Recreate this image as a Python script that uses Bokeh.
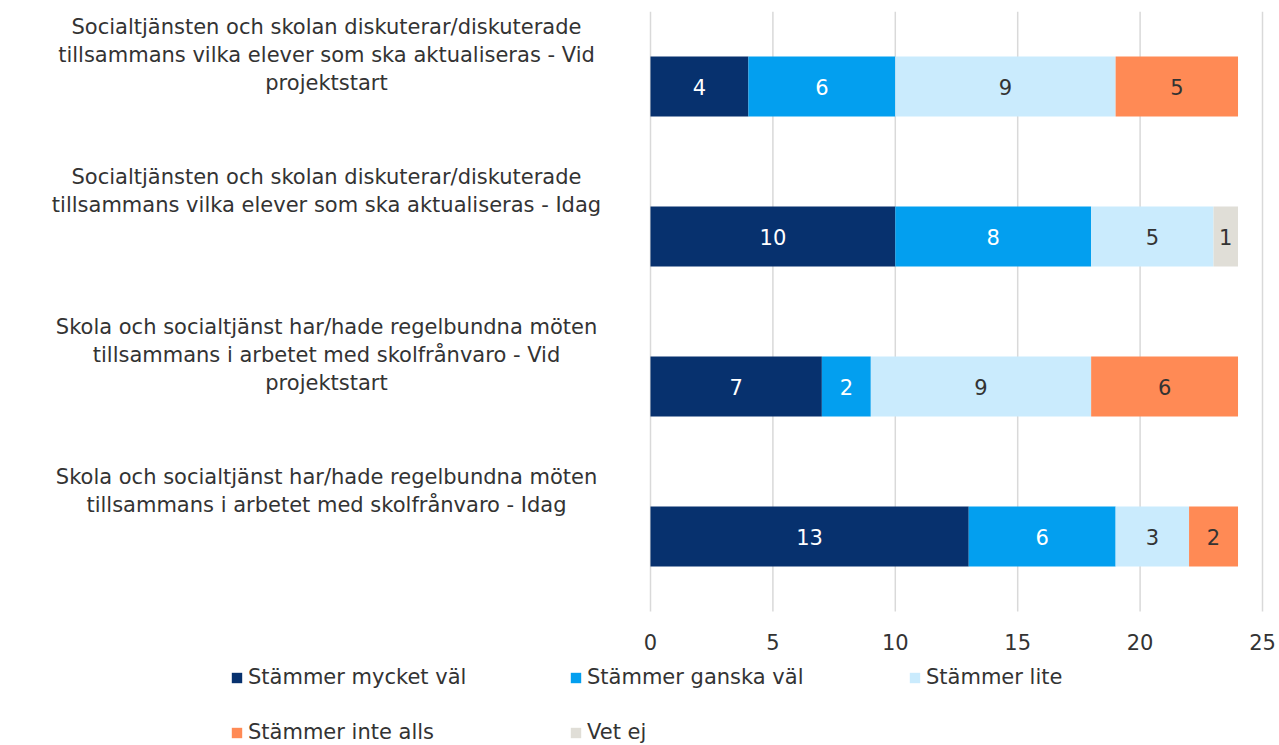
from bokeh.plotting import figure
from bokeh.models import ColumnDataSource, Label, Legend, LegendItem, Range1d, FixedTicker
from bokeh.embed import file_html
from bokeh.resources import INLINE
from bokeh.core.properties import value

categories = [
    "Socialtjänsten och skolan diskuterar/diskuterade\ntillsammans vilka elever som ska aktualiseras - Vid\nprojektstart",
    "Socialtjänsten och skolan diskuterar/diskuterade\ntillsammans vilka elever som ska aktualiseras - Idag",
    "Skola och socialtjänst har/hade regelbundna möten\ntillsammans i arbetet med skolfrånvaro - Vid\nprojektstart",
    "Skola och socialtjänst har/hade regelbundna möten\ntillsammans i arbetet med skolfrånvaro - Idag",
]
series = ["Stämmer mycket väl", "Stämmer ganska väl", "Stämmer lite", "Stämmer inte alls", "Vet ej"]
mycket_val = [4, 10, 7, 13]
ganska_val = [6, 8, 2, 6]
lite = [9, 5, 9, 3]
inte_alls = [5, 0, 6, 2]
vet_ej = [0, 1, 0, 0]
x_ticks = [0, 5, 10, 15, 20, 25]

colors = ["#07316E", "#039FEF", "#CAEBFD", "#FF8A55", "#E0DED7"]
label_colors = ["white", "white", "#333333", "#333333", "#333333"]
FONT = "DejaVu Sans"
FS = "21px"

values = [mycket_val, ganska_val, lite, inte_alls, vet_ej]
n = len(categories)
ypos = [n - i - 0.5 for i in range(n)]

# layout in pixels: the frame fills the page; value axis spans 650..1262 px, bars 11..611 px
W, H, TOP, ZERO_PX, END_PX, AXIS_PX = 1279, 745, 11, 650, 1262, 611
xmax = 25
px_per_unit = (END_PX - ZERO_PX) / xmax
xmin = -ZERO_PX / px_per_unit
xend = xmax + (W - END_PX) / px_per_unit
py_per_unit = (AXIS_PX - TOP) / n
ymin = -(H - AXIS_PX) / py_per_unit

p = figure(width=W, height=H, output_backend="svg", toolbar_location=None,
           x_range=Range1d(xmin, xend), y_range=Range1d(ymin, n),
           min_border_left=0, min_border_right=0, min_border_top=TOP, min_border_bottom=0)
p.outline_line_color = None
p.background_fill_color = "white"
p.border_fill_color = "white"
p.xgrid.grid_line_color = None
p.ygrid.grid_line_color = None
p.yaxis.visible = False

# vertical gridlines over the bar area only
p.segment(x0=x_ticks, y0=[0] * len(x_ticks), x1=x_ticks, y1=[n] * len(x_ticks),
          line_color="#D9D9D9", line_width=1.5, level="underlay")

data = {"y": ypos}
for s, v in zip(series, values):
    data[s] = v
src = ColumnDataSource(data)
rs = p.hbar_stack(series, y="y", height=0.4, color=colors, source=src, line_color=None)

# segment labels
for k, (v, c) in enumerate(zip(values, label_colors)):
    xs, ys, ts = [], [], []
    for i in range(n):
        if v[i] > 0:
            left = sum(values[j][i] for j in range(k))
            xs.append(left + v[i] / 2)
            ys.append(ypos[i])
            ts.append(str(v[i]))
    p.text(x=xs, y=ys, text=ts, text_align="center", text_baseline="middle",
           text_color=c, text_font=value(FONT), text_font_size=FS)

# x axis placed at y = 0
p.xaxis.fixed_location = 0
p.xaxis.ticker = FixedTicker(ticks=x_ticks)
p.xaxis.axis_line_color = None
p.xaxis.major_tick_line_color = None
p.xaxis.minor_tick_line_color = None
p.xaxis.major_label_text_font = FONT
p.xaxis.major_label_text_font_size = FS
p.xaxis.major_label_text_color = "#333333"
p.xaxis.major_label_standoff = 16

# category labels
for i, cat in enumerate(categories):
    p.add_layout(Label(x=0, y=n - i, x_offset=-324, y_offset=-3, text=cat,
                       text_align="center", text_baseline="top",
                       text_font=FONT, text_font_size=FS, text_color="#333333",
                       text_line_height=1.17))

legend = Legend(items=[LegendItem(label=s, renderers=[r]) for s, r in zip(series, rs)],
                location=(230, 1), orientation="horizontal", ncols=3,
                glyph_width=13, glyph_height=13, label_standoff=5, label_width=290,
                label_height=21, spacing=31, padding=0, margin=0,
                border_line_color=None, background_fill_alpha=0,
                label_text_font=FONT, label_text_font_size=FS, label_text_color="#333333")
p.add_layout(legend, "center")

open("out.html", "w").write(file_html(p, INLINE))
